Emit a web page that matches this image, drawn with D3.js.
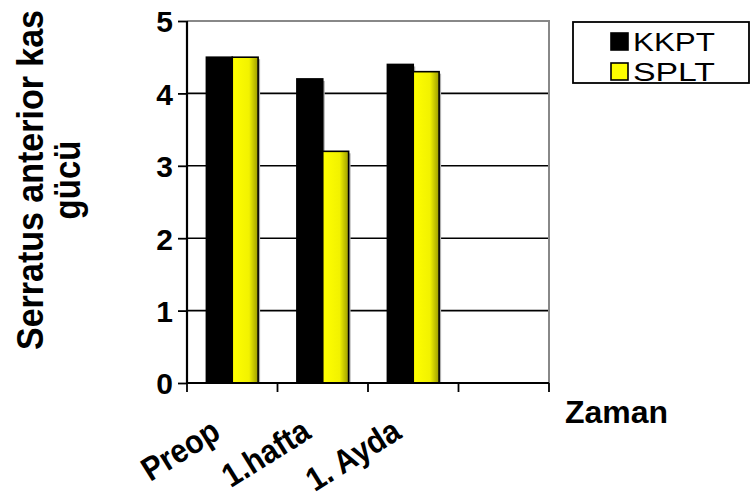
<!DOCTYPE html>
<html><head><meta charset="utf-8">
<script src="https://cdn.jsdelivr.net/npm/d3@7"></script>
<style>html,body{margin:0;padding:0;background:#fff;}svg{display:block;font-family:Arial,"Liberation Sans",sans-serif;}</style>
</head><body>
<script>
const categories = ["Preop", "1.hafta", "1. Ayda", ""];
const seriesNames = ["KKPT", "SPLT"];
const kkptValues = [4.5, 4.2, 4.4, null];
const spltValues = [4.5, 3.2, 4.3, null];
const yTicks = [0, 1, 2, 3, 4, 5];
const yTitleLines = ["Serratus anterior kas", "gücü"];
const xTitle = "Zaman";

const W = 751, H = 498;
const plot = {left: 187, right: 549, top: 21, bottom: 383};
const svg = d3.select("body").append("svg").attr("width", W).attr("height", H);

const defs = svg.append("defs");
const grad = defs.append("linearGradient").attr("id", "yel").attr("x1", "0").attr("x2", "1").attr("y1", "0").attr("y2", "0");
grad.append("stop").attr("offset", "0%").attr("stop-color", "#ffff00");
grad.append("stop").attr("offset", "65%").attr("stop-color", "#f2f200");
grad.append("stop").attr("offset", "100%").attr("stop-color", "#9c9c00");

const x0 = d3.scaleBand().domain(categories.map((c, i) => i)).range([plot.left, plot.right]).paddingInner(0).paddingOuter(0);
const x1 = d3.scaleBand().domain(seriesNames).range([0, x0.bandwidth()]).paddingInner(0).paddingOuter(0.75);
const y = d3.scaleLinear().domain([0, 5]).range([plot.bottom, plot.top]);

// gridlines
svg.append("g").selectAll("line").data(yTicks.filter(t => t > 0 && t < 5)).join("line")
  .attr("x1", plot.left).attr("x2", plot.right).attr("y1", d => y(d)).attr("y2", d => y(d))
  .attr("stroke", "#000").attr("stroke-width", 1.6);

// top and right border (gray)
svg.append("path").attr("d", `M${plot.left},${y(5)}H${plot.right}V${plot.bottom}`)
  .attr("fill", "none").attr("stroke", "#888").attr("stroke-width", 2);

const data = categories.map((c, i) => ({i, vals: [
  {s: "KKPT", v: kkptValues[i]}, {s: "SPLT", v: spltValues[i]}]}));

const groups = svg.append("g").selectAll("g").data(data).join("g")
  .attr("transform", d => `translate(${x0(d.i)},0)`);
groups.selectAll("rect.sh").data(d => d.vals.filter(v => v.v != null)).join("rect").attr("class", "sh")
  .attr("x", d => x1(d.s) + 2).attr("y", d => y(d.v) + 2)
  .attr("width", x1.bandwidth()).attr("height", d => y(0) - y(d.v) - 2)
  .attr("fill", "#b0b0b0");
groups.selectAll("rect.bar").data(d => d.vals.filter(v => v.v != null)).join("rect").attr("class", "bar")
  .attr("x", d => x1(d.s)).attr("y", d => y(d.v))
  .attr("width", x1.bandwidth()).attr("height", d => y(0) - y(d.v))
  .attr("fill", d => d.s === "KKPT" ? "#000" : "url(#yel)")
  .attr("stroke", "#000").attr("stroke-width", 1.6);

// y axis
const yAxis = d3.axisLeft(y).tickValues(yTicks).tickSize(9).tickPadding(5).tickFormat(d3.format("d"));
const ya = svg.append("g").attr("transform", `translate(${plot.left},0)`).call(yAxis);
ya.select(".domain").attr("stroke", "#000").attr("stroke-width", 2.2).attr("d", `M0,${plot.top}V${plot.bottom}`);
ya.selectAll(".tick line").attr("stroke", "#000").attr("stroke-width", 1.8);
ya.selectAll(".tick text").attr("font-size", 30).attr("font-weight", "bold").attr("fill", "#000")
  .attr("font-family", "Arial, 'Liberation Sans', sans-serif").attr("dy", "0.36em");

// x axis
const bounds = categories.map((c, i) => x0(i)).concat([plot.right]);
svg.append("line").attr("x1", plot.left).attr("x2", plot.right).attr("y1", y(0)).attr("y2", y(0))
  .attr("stroke", "#000").attr("stroke-width", 2.2);
svg.append("g").selectAll("line").data(bounds).join("line")
  .attr("x1", d => d).attr("x2", d => d).attr("y1", y(0)).attr("y2", y(0) + 9)
  .attr("stroke", "#000").attr("stroke-width", 1.8);

svg.append("g").selectAll("text").data(categories.map((c, i) => ({c, i})).filter(d => d.c)).join("text")
  .attr("transform", d => `translate(${x0(d.i) + x0.bandwidth() / 2 - 10},${y(0) + 54}) rotate(-32) scale(1,1.1)`)
  .attr("text-anchor", "end").attr("font-size", 30).attr("font-weight", "bold").attr("fill", "#000")
  .text(d => d.c);

svg.append("text").attr("x", 565).attr("y", 423).attr("font-size", 31).attr("font-weight", "bold")
  .attr("textLength", 103).attr("lengthAdjust", "spacingAndGlyphs").text(xTitle);

// y title
const yt = svg.append("g");
yt.selectAll("text").data(yTitleLines).join("text")
  .attr("transform", (d, i) => `translate(${43 + i * 37},180) rotate(-90) scale(1,1.12)`)
  .attr("text-anchor", "middle").attr("font-size", 33).attr("font-weight", "bold").attr("fill", "#000")
  .attr("textLength", (d, i) => i === 0 ? 340 : null).attr("lengthAdjust", "spacingAndGlyphs")
  .text(d => d);

// legend
const lg = svg.append("g");
lg.append("rect").attr("x", 573).attr("y", 22).attr("width", 176).attr("height", 61)
  .attr("fill", "#fff").attr("stroke", "#000").attr("stroke-width", 1.8);
const li = lg.selectAll("g").data(seriesNames).join("g")
  .attr("transform", (d, i) => `translate(611,${33 + i * 30})`);
li.append("rect").attr("x", 0).attr("y", 0).attr("width", 17).attr("height", 17)
  .attr("fill", d => d === "KKPT" ? "#000" : "#ffff00").attr("stroke", "#000").attr("stroke-width", 1.6);
li.append("text").attr("x", 22).attr("y", 17.5).attr("font-size", 26).attr("fill", "#000")
  .attr("textLength", 82).attr("lengthAdjust", "spacingAndGlyphs").text(d => d);
</script>
</body></html>
